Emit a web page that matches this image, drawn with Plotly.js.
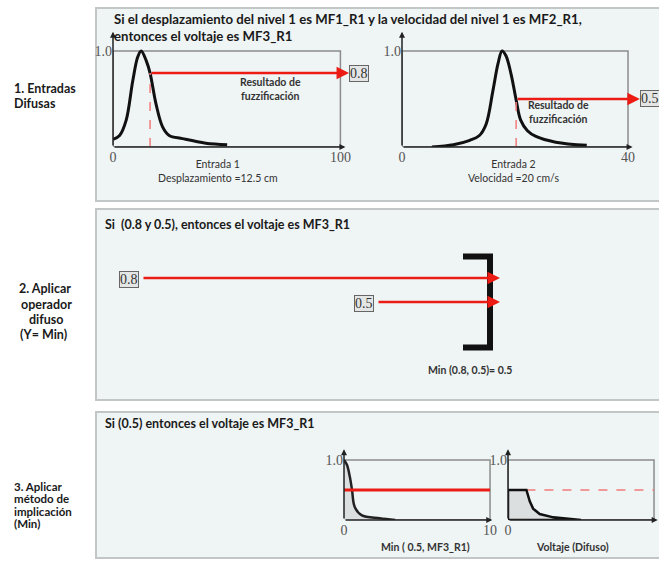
<!DOCTYPE html>
<html><head><meta charset="utf-8">
<script src="https://cdn.plot.ly/plotly-3.0.1.min.js"></script>
<style>html,body{margin:0;padding:0;background:#fff}</style>
</head><body><div id="chart" style="width:659px;height:561px"></div>
<script>
// ---------- data ----------
const mf1X = [0, 2.9, 5.8, 8.7, 10.9, 12.4, 14.6, 16.3, 18.9, 21.8, 24.7, 30.6, 40.8, 50.2];
const mf1Y = [0.08, 0.12, 0.28, 0.69, 0.94, 1.0, 0.90, 0.77, 0.45, 0.21, 0.12, 0.087, 0.04, 0.024];
const mf2X = [5.3, 9.1, 12.0, 13.7, 14.9, 16.1, 17.0, 17.7, 18.4, 19.3, 20.2, 21.0, 22.2, 23.7, 27.2, 32.7];
const mf2Y = [0.0, 0.024, 0.07, 0.12, 0.24, 0.59, 0.87, 1.0, 0.95, 0.76, 0.49, 0.28, 0.17, 0.11, 0.05, 0.017];
const mf3X = [0, 0.2, 0.4, 0.55, 0.73, 1.2, 2.45, 3.5];
const mf3Y = [1.0, 0.92, 0.72, 0.5, 0.22, 0.08, 0.028, 0.0];
const outX = [0, 0, 1.26, 1.37, 1.49, 1.72, 2.17, 3.1, 4.0, 5.0, 0];
const outY = [0, 0.5, 0.5, 0.42, 0.31, 0.19, 0.1, 0.044, 0.022, 0, 0];
const inputX = [16.3, 20.2];          // crisp inputs as drawn
const inputDeg = [0.77, 0.5];         // fuzzified degrees as drawn
const degreeLabels = ['0.8', '0.5'];
const minDegree = 0.5;
const xMax = [100, 40, 10, 10];
const xTickText = [['0', '100'], ['0', '40'], ['0', '10'], ['0', '10']];
const yTickText = ['1.0'];

// ---------- helpers ----------
const W = 659, H = 561;
const px = x => x / W, py = y => 1 - y / H;
const RED = '#ec1c14', TXT = '#1a1a1a';
const F = 'Lato, "Open Sans", sans-serif';
const SERIF = '"Liberation Serif", serif';

function xa(d0, d1, range, i, anchor) {
  return {domain: [px(d0), px(d1)], range: range, tickvals: [0, xMax[i]], ticktext: xTickText[i],
    showgrid: false, zeroline: false, showline: false, ticks: '', fixedrange: true, anchor: anchor,
    tickfont: {family: SERIF, size: 14, color: '#555'}};
}
function ya(b, t, range, anchor) {
  return {domain: [py(b), py(t)], range: range, tickvals: [1], ticktext: yTickText,
    showgrid: false, zeroline: false, showline: false, ticks: '', fixedrange: true, anchor: anchor,
    tickfont: {family: SERIF, size: 14, color: '#555'}};
}

const traces = [
  {x: mf1X, y: mf1Y, xaxis: 'x', yaxis: 'y', mode: 'lines', line: {color: '#111', width: 3, shape: 'spline'}},
  {x: [inputX[0], inputX[0]], y: [0, inputDeg[0]], xaxis: 'x', yaxis: 'y', mode: 'lines', line: {color: '#f27a7a', width: 1.5, dash: 'dash'}},
  {x: mf2X, y: mf2Y, xaxis: 'x2', yaxis: 'y2', mode: 'lines', line: {color: '#111', width: 3, shape: 'spline'}},
  {x: [inputX[1], inputX[1]], y: [0, inputDeg[1]], xaxis: 'x2', yaxis: 'y2', mode: 'lines', line: {color: '#f27a7a', width: 1.5, dash: 'dash'}},
  {x: mf3X, y: mf3Y, xaxis: 'x3', yaxis: 'y3', mode: 'lines', fill: 'tozeroy', fillcolor: '#dcdfdf', line: {color: '#222', width: 2.5, shape: 'spline'}},
  {x: [0, xMax[2]], y: [minDegree, minDegree], xaxis: 'x3', yaxis: 'y3', mode: 'lines', line: {color: RED, width: 3}},
  {x: [outX[2], xMax[3]], y: [minDegree, minDegree], xaxis: 'x4', yaxis: 'y4', mode: 'lines', line: {color: '#f27a7a', width: 1.5, dash: 'dash'}},
  {x: outX, y: outY, xaxis: 'x4', yaxis: 'y4', mode: 'lines', fill: 'toself', fillcolor: '#dcdfdf', line: {color: '#111', width: 2.5}}
];

function box(xr, yr, xm) {
  return {type: 'rect', xref: xr, yref: yr, x0: 0, x1: xm, y0: 0, y1: 1, line: {color: '#8c8c8c', width: 1.5}, layer: 'below'};
}
function panel(t, b) {
  return {type: 'rect', xref: 'paper', yref: 'paper', x0: px(96), x1: px(680), y0: py(b), y1: py(t),
    line: {color: '#c2c6c6', width: 2}, fillcolor: '#eff4f4', layer: 'below'};
}
const shapes = [
  panel(8, 201), panel(209, 400), panel(412, 558),
  box('x', 'y', xMax[0]), box('x2', 'y2', xMax[1]), box('x3', 'y3', xMax[2]), box('x4', 'y4', xMax[3]),
  {type: 'path', xref: 'paper', yref: 'paper', line: {color: '#111', width: 6},
    path: `M ${px(463)} ${py(256.5)} L ${px(490)} ${py(256.5)} L ${px(490)} ${py(347.5)} L ${px(463)} ${py(347.5)}`}
];

function axArrow(xr, yr, x, y) {
  return {xref: xr, yref: yr, axref: xr, ayref: yr, x: x, y: y, ax: 0, ay: 0, text: '', showarrow: true,
    arrowhead: 2, arrowsize: 0.8, arrowwidth: 1.5, arrowcolor: '#222'};
}
function txt(x, y, text, opts) {
  return Object.assign({xref: 'paper', yref: 'paper', x: px(x), y: py(y), text: text, showarrow: false,
    xanchor: 'left', yanchor: 'middle', font: {family: F, size: 12.5, color: TXT, weight: 'bold'}}, opts || {});
}
function degBox(xr, yr, x, y, label) {
  return {xref: xr, yref: yr, x: x, y: y, text: label, showarrow: false, xanchor: 'left', yanchor: 'middle',
    font: {family: SERIF, size: 14, color: '#333'}, bgcolor: '#e4e6e6', bordercolor: '#666', borderwidth: 1, borderpad: 0};
}
const small = {family: F, size: 10.5, color: '#333', weight: 'bold'};
const reg = {family: F, size: 10.5, color: '#333'};
const title = {family: F, size: 13.2, color: TXT, weight: 'bold'};
const step3 = {family: F, size: 11.5, color: TXT, weight: 'bold'};

const annotations = [
  // axis arrows
  axArrow('x', 'y', 0, 1.2), axArrow('x', 'y', 102.2, 0),
  axArrow('x2', 'y2', 0, 1.2), axArrow('x2', 'y2', 40.8, 0),
  axArrow('x3', 'y3', 0, 1.18), axArrow('x3', 'y3', 10.15, 0),
  axArrow('x4', 'y4', 0, 1.18), axArrow('x4', 'y4', 10.25, 0),
  // fuzzification arrows
  {xref: 'x', yref: 'y', axref: 'x', ayref: 'y', x: 103.8, y: inputDeg[0], ax: inputX[0], ay: inputDeg[0], text: '', showarrow: true,
    arrowhead: 2, arrowsize: 1, arrowwidth: 2.5, arrowcolor: RED},
  {xref: 'x2', yref: 'y2', axref: 'x2', ayref: 'y2', x: 42.1, y: inputDeg[1], ax: inputX[1], ay: inputDeg[1], text: '', showarrow: true,
    arrowhead: 2, arrowsize: 1, arrowwidth: 2.5, arrowcolor: RED},
  degBox('x', 'y', 103.9, inputDeg[0], degreeLabels[0]),
  degBox('x2', 'y2', 42.2, inputDeg[1], degreeLabels[1]),
  // top panel texts
  txt(112, 19, 'Si el desplazamiento del nivel 1 es MF1_R1 y la velocidad del nivel 1 es MF2_R1,', {font: title}),
  txt(112, 36, 'entonces el voltaje es MF3_R1', {font: title}),
  txt(270, 89, 'Resultado de<br>fuzzificación', {xanchor: 'center', font: small}),
  txt(558, 112, 'Resultado de<br>fuzzificación', {xanchor: 'center', font: small}),
  txt(218, 171, 'Entrada 1<br>Desplazamiento =12.5 cm', {xanchor: 'center', font: reg}),
  txt(513, 171, 'Entrada 2<br>Velocidad =20 cm/s', {xanchor: 'center', font: reg}),
  // middle panel
  txt(103, 224, 'Si  (0.8 y 0.5), entonces el voltaje es MF3_R1', {font: {family: F, size: 12.5, color: TXT, weight: 'bold'}}),
  {xref: 'paper', yref: 'paper', x: px(500), y: py(278), ax: -(500 - 142), ay: 0, text: '', showarrow: true,
    arrowhead: 2, arrowsize: 1, arrowwidth: 2.5, arrowcolor: RED},
  {xref: 'paper', yref: 'paper', x: px(500), y: py(302), ax: -(500 - 377), ay: 0, text: '', showarrow: true,
    arrowhead: 2, arrowsize: 1, arrowwidth: 2.5, arrowcolor: RED},
  degBox('paper', 'paper', px(119), py(279), degreeLabels[0]),
  degBox('paper', 'paper', px(354), py(303), degreeLabels[1]),
  txt(470, 370, 'Min (0.8, 0.5)= 0.5', {xanchor: 'center', font: small}),
  // bottom panel
  txt(103, 423, 'Si (0.5) entonces el voltaje es MF3_R1', {font: {family: F, size: 12.5, color: TXT, weight: 'bold'}}),
  txt(426, 547, 'Min ( 0.5, MF3_R1)', {xanchor: 'center', font: small}),
  txt(572, 547, 'Voltaje (Difuso)', {xanchor: 'center', font: small}),
  // left step labels
  txt(12, 88, '1. Entradas'), txt(12, 103, 'Difusas'),
  txt(45, 288, '2. Aplicar', {xanchor: 'center'}), txt(46, 304, 'operador', {xanchor: 'center'}),
  txt(46, 319, 'difuso', {xanchor: 'center'}), txt(43, 334, '(Y= Min)', {xanchor: 'center'}),
  txt(12, 486, '3. Aplicar', {font: step3}), txt(12, 498.5, 'método de', {font: step3}),
  txt(12, 511, 'implicación', {font: step3}), txt(12, 523.5, '(Min)', {font: step3})
];

const layout = {
  width: W, height: H, margin: {l: 0, r: 0, t: 0, b: 0}, showlegend: false,
  paper_bgcolor: '#ffffff', plot_bgcolor: 'rgba(0,0,0,0)',
  xaxis: xa(113, 358.6, [0, 108], 0, 'y'), yaxis: ya(147, 31.8, [0, 1.2], 'x'),
  xaxis2: xa(402, 647.8, [0, 43.5], 1, 'y2'), yaxis2: ya(147, 31.8, [0, 1.2], 'x2'),
  xaxis3: xa(344, 498.8, [0, 10.6], 2, 'y3'), yaxis3: ya(520, 448, [0, 1.2], 'x3'),
  xaxis4: xa(508, 658.4, [0, 10.3], 3, 'y4'), yaxis4: ya(520, 448, [0, 1.2], 'x4'),
  shapes: shapes, annotations: annotations
};
Plotly.newPlot('chart', traces, layout, {displayModeBar: false, staticPlot: true});
</script></body></html>
